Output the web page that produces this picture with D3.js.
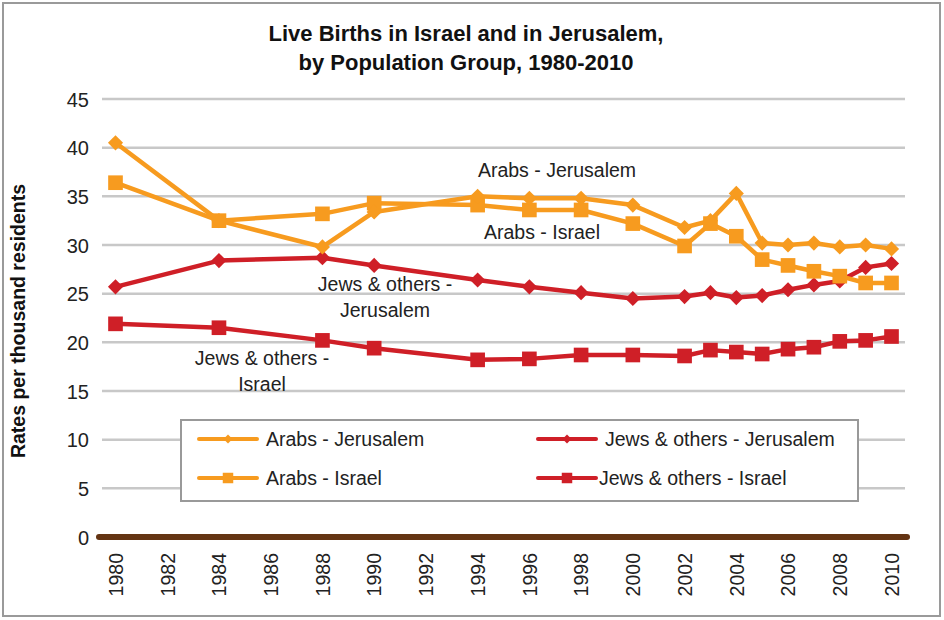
<!DOCTYPE html>
<html>
<head>
<meta charset="utf-8">
<script src="https://cdn.jsdelivr.net/npm/d3@7"></script>
<style>
  html, body { margin: 0; padding: 0; background: #fff; }
  svg { display: block; font-family: "Liberation Sans", Arial, Helvetica, sans-serif; }
</style>
</head>
<body>
<svg id="chart" width="944" height="620"></svg>
<script>
// ---- Data ----
const years = [1980, 1984, 1988, 1990, 1994, 1996, 1998, 2000, 2002, 2003, 2004, 2005, 2006, 2007, 2008, 2009, 2010];
const arabsJerusalem = [40.5, 32.5, 29.8, 33.4, 35.0, 34.8, 34.8, 34.1, 31.8, 32.5, 35.3, 30.2, 30.0, 30.2, 29.8, 30.0, 29.6];
const arabsIsrael    = [36.4, 32.5, 33.2, 34.3, 34.1, 33.6, 33.6, 32.2, 29.9, 32.2, 30.9, 28.5, 27.9, 27.3, 26.8, 26.1, 26.1];
const jewsJerusalem  = [25.7, 28.4, 28.7, 27.9, 26.4, 25.7, 25.1, 24.5, 24.7, 25.1, 24.6, 24.8, 25.4, 25.9, 26.3, 27.7, 28.1];
const jewsIsrael     = [21.9, 21.5, 20.2, 19.4, 18.2, 18.3, 18.7, 18.7, 18.6, 19.2, 19.0, 18.8, 19.3, 19.5, 20.1, 20.2, 20.6];
const yTicks = [0, 5, 10, 15, 20, 25, 30, 35, 40, 45];
const xTicks = [1980, 1982, 1984, 1986, 1988, 1990, 1992, 1994, 1996, 1998, 2000, 2002, 2004, 2006, 2008, 2010];
const seriesNames = ["Arabs - Jerusalem", "Arabs - Israel", "Jews & others - Jerusalem", "Jews & others - Israel"];
const titleLines = ["Live Births in Israel and in Jerusalem,", "by Population Group, 1980-2010"];
const yAxisTitle = "Rates per thousand residents";

const ORANGE = "#F79B1F";
const RED = "#CF1F27";
const series = [
  { name: seriesNames[0], values: arabsJerusalem, color: ORANGE, marker: "diamond" },
  { name: seriesNames[1], values: arabsIsrael,    color: ORANGE, marker: "square" },
  { name: seriesNames[2], values: jewsJerusalem,  color: RED,    marker: "diamond" },
  { name: seriesNames[3], values: jewsIsrael,     color: RED,    marker: "square" }
];

const svg = d3.select("#chart");
const FONT = "'Liberation Sans', Arial, sans-serif";

// outer border
svg.append("rect").attr("x", 3).attr("y", 3).attr("width", 937).attr("height", 613)
  .attr("fill", "#fff").attr("stroke", "#9a9a9a").attr("stroke-width", 2);

const x = d3.scaleLinear().domain([1980, 2010]).range([115.5, 891.5]);
const y = d3.scaleLinear().domain([0, 45]).range([537, 99]);

// title
svg.append("g").selectAll("text").data(titleLines).join("text")
  .attr("x", 466).attr("y", (d, i) => 41 + i * 29)
  .attr("text-anchor", "middle").attr("font-size", 22).attr("font-weight", "bold").attr("fill", "#111")
  .text(d => d);

// gridlines
svg.append("g").selectAll("line").data(yTicks.filter(t => t > 0)).join("line")
  .attr("x1", 102).attr("x2", 905).attr("y1", d => y(d)).attr("y2", d => y(d))
  .attr("stroke", "#c8c8c8").attr("stroke-width", 2.5);

// y axis labels
const yAxis = d3.axisLeft(y).tickValues(yTicks).tickSize(0).tickPadding(0);
const gy = svg.append("g").attr("transform", "translate(89,0)").call(yAxis);
gy.select(".domain").remove();
gy.selectAll("text").attr("font-size", 20).attr("fill", "#222").attr("dy", "0.35em")
  .style("font-family", FONT);

// y axis title
svg.append("text").attr("transform", "translate(25,321) rotate(-90)")
  .attr("text-anchor", "middle").attr("font-size", 19.5).attr("font-weight", "bold").attr("fill", "#111")
  .text(yAxisTitle);

// zero axis (thick brown)
svg.append("line").attr("x1", 99).attr("x2", 907).attr("y1", y(0)).attr("y2", y(0))
  .attr("stroke", "#643413").attr("stroke-width", 6).attr("stroke-linecap", "round");

// x axis labels
const xAxis = d3.axisBottom(x).tickValues(xTicks).tickFormat(d3.format("d")).tickSize(0);
const gx = svg.append("g").attr("transform", `translate(0,${y(0)})`).call(xAxis);
gx.select(".domain").remove();
gx.selectAll("text")
  .attr("transform", "rotate(-90)")
  .attr("text-anchor", "end")
  .attr("x", -16).attr("y", 0).attr("dy", "0.35em")
  .attr("font-size", 19.5).attr("fill", "#222")
  .style("font-family", FONT);

// lines & markers
const line = d3.line().x((d, i) => x(years[i])).y(d => y(d));

function drawMarker(g, type, size, color) {
  const p = g.append("path").attr("d", d3.symbol().type(d3.symbolSquare).size(size)()).attr("fill", color);
  if (type === "diamond") p.attr("transform", "rotate(45)");
}

const drawOrder = [3, 2, 1, 0];
drawOrder.forEach(si => {
  const s = series[si];
  const g = svg.append("g");
  g.append("path").datum(s.values).attr("d", line)
    .attr("fill", "none").attr("stroke", s.color).attr("stroke-width", 4.5).attr("stroke-linejoin", "round");
  s.values.forEach((v, i) => {
    const mg = g.append("g").attr("transform", `translate(${x(years[i])},${y(v)})`);
    drawMarker(mg, s.marker, s.marker === "diamond" ? 115 : 215, s.color);
  });
});

// inline labels
const inlineLabels = [
  { lines: ["Arabs - Jerusalem"], cx: 557, y0: 177 },
  { lines: ["Arabs - Israel"], cx: 542, y0: 239 },
  { lines: ["Jews & others -", "Jerusalem"], cx: 385, y0: 291 },
  { lines: ["Jews & others -", "Israel"], cx: 262, y0: 365 }
];
inlineLabels.forEach(l => {
  svg.append("g").selectAll("text").data(l.lines).join("text")
    .attr("x", l.cx).attr("y", (d, i) => l.y0 + i * 26)
    .attr("text-anchor", "middle").attr("font-size", 19.5).attr("fill", "#222")
    .text(d => d);
});

// legend
const lg = svg.append("g");
lg.append("rect").attr("x", 181).attr("y", 420).attr("width", 677).attr("height", 81)
  .attr("fill", "#fff").attr("stroke", "#999").attr("stroke-width", 2);
const legendPos = [
  { x: 199, y: 439, tx: 266 },
  { x: 199, y: 478, tx: 266 },
  { x: 538, y: 439, tx: 605 },
  { x: 538, y: 478, tx: 599 }
];
series.forEach((s, i) => {
  const p = legendPos[i];
  const g = lg.append("g");
  g.append("line").attr("x1", p.x).attr("x2", p.x + 58).attr("y1", p.y).attr("y2", p.y)
    .attr("stroke", s.color).attr("stroke-width", 4).attr("stroke-linecap", "round");
  const mg = g.append("g").attr("transform", `translate(${p.x + 29},${p.y})`);
  drawMarker(mg, s.marker, s.marker === "diamond" ? 40 : 110, s.color);
  g.append("text").attr("x", p.tx).attr("y", p.y).attr("dy", "0.35em")
    .attr("font-size", 19.5).attr("fill", "#222").text(s.name);
});
</script>
</body>
</html>
